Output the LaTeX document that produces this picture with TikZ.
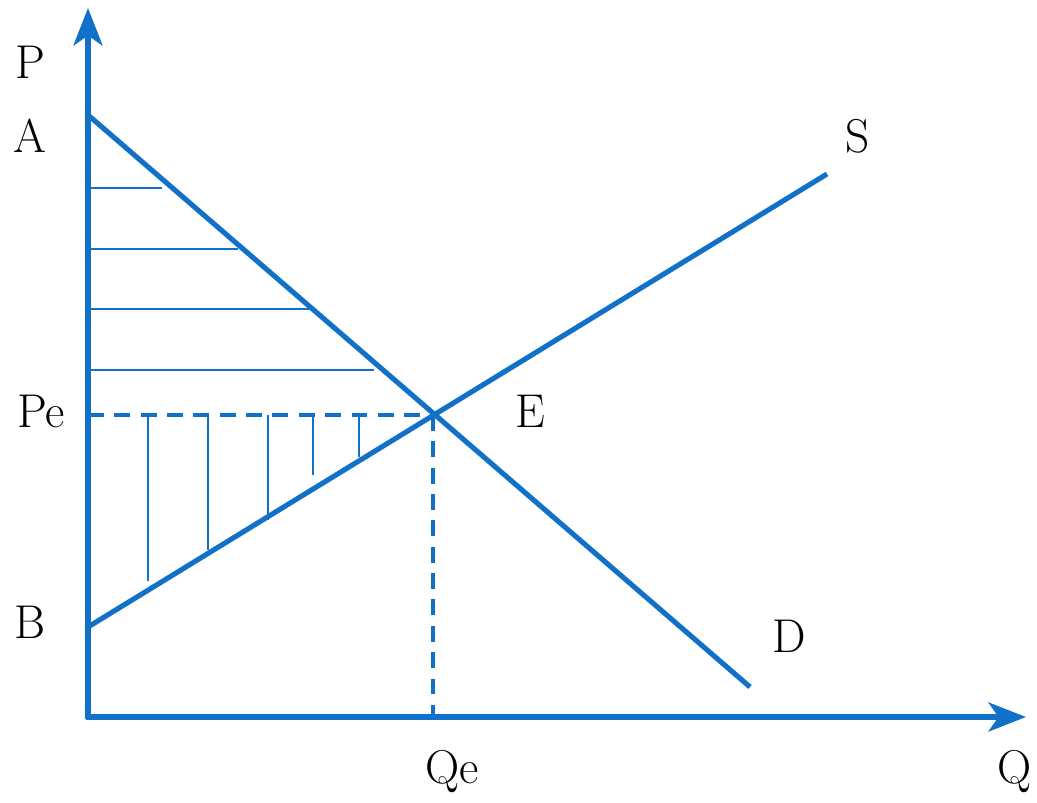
\documentclass[tikz,border=0pt]{standalone}
\usetikzlibrary{positioning, arrows.meta}
\usepackage{xcolor}
\definecolor{curveblue}{RGB}{17,112,200}

\begin{document}
\begin{tikzpicture}[x=0.02cm, y=-0.02cm]
\tikzstyle{axis} = [draw=curveblue, line width=2.9pt, -{Stealth[length=0.75cm, width=0.58cm, inset=0.2cm]}]
\tikzstyle{curve} = [draw=curveblue, line width=2.9pt]
\tikzstyle{guide} = [draw=curveblue, line width=2pt, dash pattern=on 9pt off 6pt]
\tikzstyle{hatch} = [draw=curveblue, line width=1.1pt]
\tikzstyle{lbl} = [font=\fontsize{27}{31}\selectfont, inner sep=0pt]

\useasboundingbox (0,0) rectangle (1037,803);

\coordinate (O) at (88,717);
\coordinate (ytip) at (88,8);
\coordinate (xtip) at (1026,717);
\coordinate (A) at (88,115);
\coordinate (Dend) at (750,687);
\coordinate (B) at (88,627);
\coordinate (Send) at (827,174);
\coordinate (E) at (433,415);
\coordinate (Pe) at (88,415);
\coordinate (Qe) at (433,717);

\node (lP) [lbl] at (30,62) {P};
\node (lA) [lbl] at (30,136) {A};
\node (lPe) [lbl] at (41,411) {Pe};
\node (lB) [lbl] at (30,622) {B};
\node (lE) [lbl] at (530,411) {E};
\node (lS) [lbl] at (858,136) {S};
\node (lD) [lbl] at (789,636) {D};
\node (lQe) [lbl] at (452,772) {Qe};
\node (lQ) [lbl] at (1015,772) {Q};

% consumer surplus
\foreach \y/\x in {188/162, 249/238, 309/312, 370/374}
  \draw[hatch] (89,\y) -- (\x,\y);
% producer surplus
\foreach \x/\y in {148/581, 208/550, 268/520, 313/475, 359/457}
  \draw[hatch] (\x,415) -- (\x,\y);

\draw[guide] (Pe) -- (E);
\draw[guide] (E) -- (Qe);

\draw[curve] (A) -- (Dend);
\draw[curve] (B) -- (Send);

\draw[axis] ([yshift=-1.4pt]O) -- (ytip);
\draw[axis] ([xshift=-1.4pt]O) -- (xtip);
\end{tikzpicture}
\end{document}
